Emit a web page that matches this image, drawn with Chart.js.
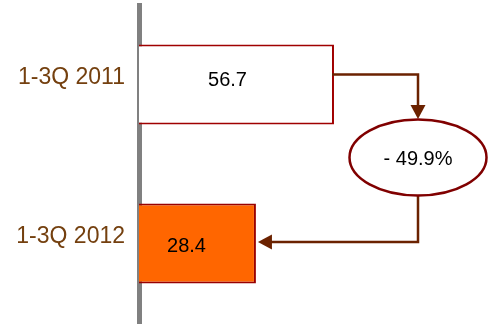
<!DOCTYPE html>
<html>
<head>
<meta charset="utf-8">
<script src="https://cdn.jsdelivr.net/npm/chart.js@4.4.0/dist/chart.umd.min.js"></script>
<style>
html,body{margin:0;padding:0;background:#fff;}
#c{display:block;}
</style>
</head>
<body>
<canvas id="c" width="492" height="324"></canvas>
<script>
const categories = ["1-3Q 2011", "1-3Q 2012"];
const values = [56.7, 28.4];
const valueLabels = ["56.7", "28.4"];
const barFills = ["#FFFFFF", "#FF6600"];
const barBorders = ["#A00000", "#990000"];

const change = (values[1] - values[0]) / values[0] * 100;
const changeLabel = "- " + Math.abs(change).toFixed(1) + "%";

const FONT = "'Liberation Sans', Arial, sans-serif";
const arrowColor = "#6B2200";

function arrowHead(ctx, x, y, dir) {
  const L = 14, W = 7.5;
  ctx.beginPath();
  if (dir === 'down') {
    ctx.moveTo(x, y); ctx.lineTo(x - W, y - L); ctx.lineTo(x + W, y - L);
  } else {
    ctx.moveTo(x, y); ctx.lineTo(x + L, y - W); ctx.lineTo(x + L, y + W);
  }
  ctx.closePath();
  ctx.fill();
}

const overlay = {
  id: 'overlay',
  afterDatasetsDraw(chart) {
    const ctx = chart.ctx;
    const meta = chart.getDatasetMeta(0);
    const b1 = meta.data[0], b2 = meta.data[1];
    const area = chart.chartArea;
    ctx.save();
    // value labels
    ctx.fillStyle = "#000";
    ctx.font = "20px " + FONT;
    ctx.textAlign = "center";
    ctx.textBaseline = "middle";
    const l1 = (b1.base + b1.x) / 2 - 9;
    const l2 = (b2.base + b2.x) / 2 - 11;
    ctx.fillText(valueLabels[0], l1, b1.y - 4);
    ctx.fillText(valueLabels[1], l2, b2.y + 3);

    // ellipse geometry
    const ex = area.right - 74;
    const ey = (b1.y + b2.y) / 2 - 6.5;
    const rx = 68.5, ry = 38;
    // arrow 1
    ctx.strokeStyle = arrowColor;
    ctx.fillStyle = arrowColor;
    ctx.lineWidth = 2.5;
    ctx.lineJoin = "miter";
    const y1 = b1.y - 10;
    ctx.beginPath();
    ctx.moveTo(b1.x - 2, y1);
    ctx.lineTo(ex, y1);
    ctx.lineTo(ex, ey - ry - 12);
    ctx.stroke();
    arrowHead(ctx, ex, ey - ry - 0.5, 'down');
    // arrow 2
    const y2 = b2.y - 1.5;
    ctx.beginPath();
    ctx.moveTo(ex, ey + ry);
    ctx.lineTo(ex, y2);
    ctx.lineTo(b2.x + 14, y2);
    ctx.stroke();
    arrowHead(ctx, b2.x + 2, y2, 'left');

    ctx.beginPath();
    ctx.ellipse(ex, ey, rx, ry, 0, 0, Math.PI * 2);
    ctx.fillStyle = "#fff";
    ctx.fill();
    ctx.strokeStyle = "#800000";
    ctx.lineWidth = 2.5;
    ctx.stroke();
    ctx.fillStyle = "#000";
    ctx.font = "20px " + FONT;
    ctx.fillText(changeLabel, ex, ey + 2);
    ctx.restore();
  }
};

new Chart(document.getElementById('c'), {
  type: 'bar',
  data: {
    labels: categories,
    datasets: [{
      data: values,
      base: -14,
      backgroundColor: barFills,
      borderColor: barBorders,
      borderWidth: [2, 2],
      barPercentage: 1,
      categoryPercentage: 0.503
    }]
  },
  options: {
    indexAxis: 'y',
    responsive: false,
    animation: false,
    events: [],
    layout: { padding: { top: 5, bottom: 1, left: 0, right: 0 } },
    plugins: { legend: { display: false }, tooltip: { enabled: false } },
    scales: {
      x: { display: false, min: -14, max: 114 },
      y: {
        z: 1,
        grid: { display: false, drawTicks: false },
        border: { display: true, color: "#808080", width: 5 },
        ticks: {
          color: "#74400F",
          font: { family: FONT, size: 23 },
          padding: 14,
          labelOffset: -7
        },
        afterFit(scale) {
          scale.width = 139;
          scale.paddingTop = 0;
          scale.paddingBottom = 0;
        }
      }
    }
  },
  plugins: [overlay]
});
</script>
</body>
</html>
